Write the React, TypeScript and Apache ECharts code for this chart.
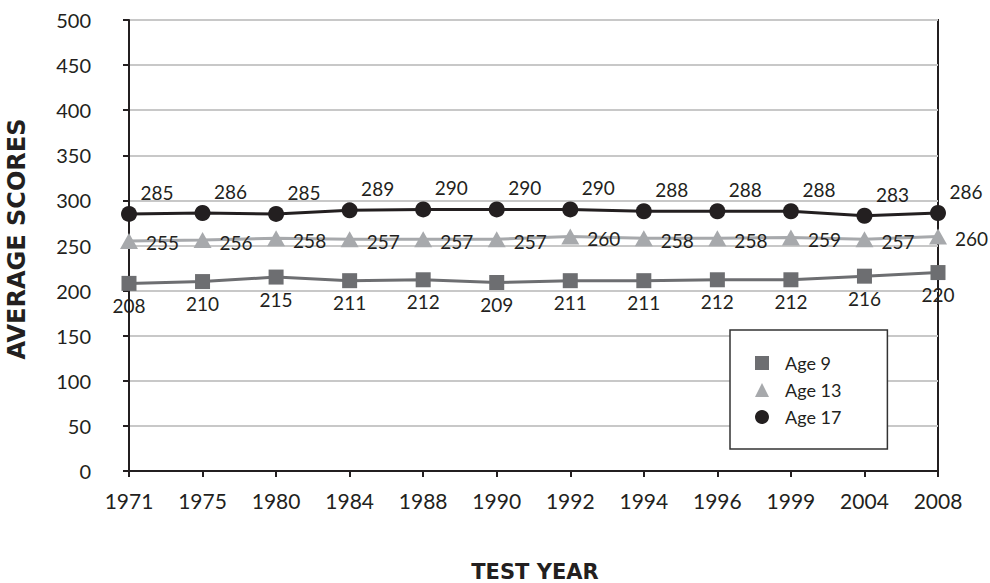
import React, { useEffect, useRef } from "react";
import * as echarts from "echarts";

const years = ["1971", "1975", "1980", "1984", "1988", "1990", "1992", "1994", "1996", "1999", "2004", "2008"];
const age9 = [208, 210, 215, 211, 212, 209, 211, 211, 212, 212, 216, 220];
const age13 = [255, 256, 258, 257, 257, 257, 260, 258, 258, 259, 257, 260];
const age17 = [285, 286, 285, 289, 290, 290, 290, 288, 288, 288, 283, 286];

const FONT = "Lato, 'Noto Sans', sans-serif";
const INK = "#231f20";

export default function App() {
  const ref = useRef<HTMLDivElement>(null);
  useEffect(() => {
    if (!ref.current) return;
    const chart = echarts.init(ref.current, null, { renderer: "svg" });
    const labelStyle = { color: INK, fontSize: 19, fontFamily: FONT };
    chart.setOption({
      animation: false,
      backgroundColor: "#ffffff",
      grid: {
        left: 129,
        right: 52,
        top: 20,
        bottom: 112,
        show: true,
        borderColor: INK,
        borderWidth: 2,
      },
      xAxis: {
        type: "category",
        data: years,
        boundaryGap: false,
        axisLine: { lineStyle: { color: INK, width: 2 } },
        axisTick: { show: true, length: 6, lineStyle: { color: INK, width: 2 } },
        axisLabel: { color: INK, fontSize: 21, fontFamily: FONT, margin: 19 },
        splitLine: { show: false },
      },
      yAxis: {
        type: "value",
        min: 0,
        max: 500,
        interval: 50,
        axisLine: { show: true, lineStyle: { color: INK, width: 2 } },
        axisTick: { show: true, length: 6, lineStyle: { color: INK, width: 2 } },
        axisLabel: { color: INK, fontSize: 20, fontFamily: FONT, margin: 38 },
        splitLine: { show: true, lineStyle: { color: "#c8c8c8", width: 2 } },
      },
      legend: {
        orient: "vertical",
        left: 730,
        top: 330,
        padding: [24, 46, 23, 25],
        itemWidth: 14,
        itemHeight: 14,
        itemGap: 9,
        borderColor: "#333333",
        borderWidth: 1.5,
        backgroundColor: "#ffffff",
        textStyle: { color: INK, fontSize: 18, fontFamily: FONT, padding: [0, 0, 0, 11] },
        data: [
          { name: "Age 9", icon: "rect" },
          { name: "Age 13", icon: "triangle" },
          { name: "Age 17", icon: "circle" },
        ],
      },
      graphic: [
        {
          type: "text",
          x: 17,
          y: 239,
          rotation: Math.PI / 2,
          style: {
            text: "AVERAGE SCORES",
            fill: INK,
            font: "bold 24px 'DejaVu Sans', sans-serif",
            align: "center",
            verticalAlign: "middle",
          },
        },
        {
          type: "text",
          x: 535,
          y: 572,
          style: {
            text: "TEST YEAR",
            fill: INK,
            font: "bold 21px 'DejaVu Sans', sans-serif",
            align: "center",
            verticalAlign: "middle",
          },
        },
      ],
      series: [
        {
          name: "Age 9",
          type: "line",
          data: age9,
          symbol: "rect",
          symbolSize: 15,
          itemStyle: { color: "#6d6e71" },
          lineStyle: { color: "#6d6e71", width: 3 },
          label: { show: true, position: "bottom", distance: 5, ...labelStyle },
        },
        {
          name: "Age 13",
          type: "line",
          data: age13,
          symbol: "triangle",
          symbolSize: [18, 16],
          itemStyle: { color: "#a7a9ac" },
          lineStyle: { color: "#a7a9ac", width: 3 },
          label: { show: true, position: "right", distance: 8, offset: [0, 2], ...labelStyle },
        },
        {
          name: "Age 17",
          type: "line",
          data: age17,
          symbol: "circle",
          symbolSize: 16,
          itemStyle: { color: INK },
          lineStyle: { color: INK, width: 3 },
          label: { show: true, position: "top", distance: 4, offset: [28, 0], ...labelStyle },
        },
      ],
    });
    return () => chart.dispose();
  }, []);
  return <div ref={ref} style={{ position: "fixed", left: 0, top: 0, width: 990, height: 583 }} />;
}
